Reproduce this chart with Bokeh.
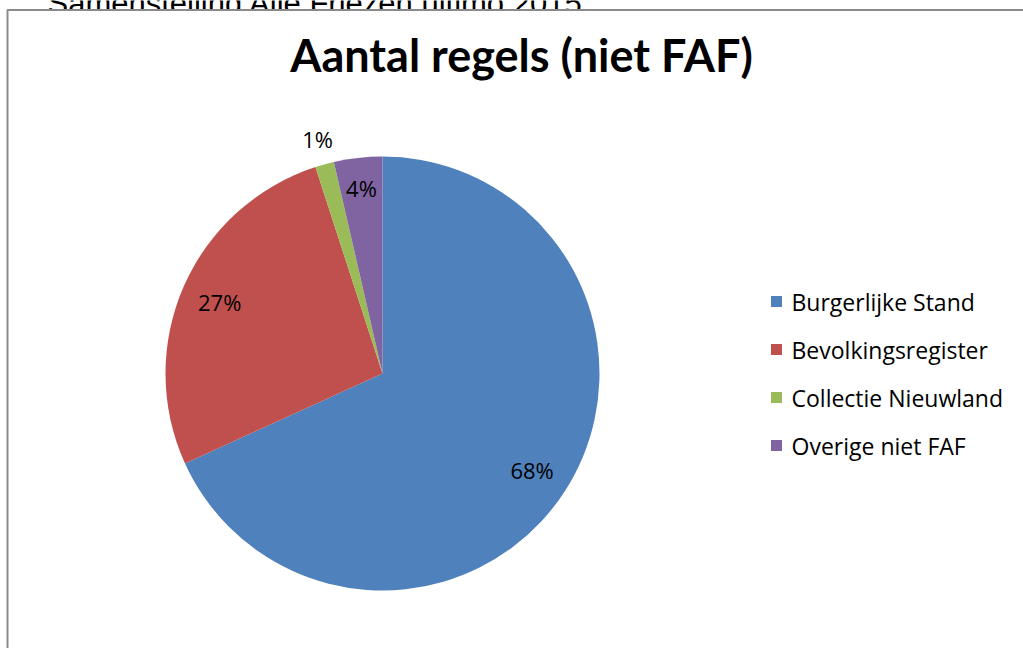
import math
import numpy as np
from bokeh.plotting import figure
from bokeh.models import ColumnDataSource, Range1d
from bokeh.core.properties import value
from bokeh.embed import file_html
from bokeh.resources import INLINE

# ---- data ----
categories = ["Burgerlijke Stand", "Bevolkingsregister", "Collectie Nieuwland", "Overige niet FAF"]
shares = [68.2, 26.8, 1.4, 3.6]
colors = ["#4F81BD", "#C0504D", "#9BBB59", "#8064A2"]
title_text = "Aantal regels (niet FAF)"
top_text = "Samenstelling Alle Friezen ultimo 2015"

# ---- layout ----
W, H = 1023, 648
FONT = "Open Sans"
cx, cy, R = 382, H - 373, 217

p = figure(width=W, height=H, output_backend="svg", toolbar_location=None,
           x_range=Range1d(0, W), y_range=Range1d(0, H), min_border=0)
p.axis.visible = False
p.grid.visible = False
p.outline_line_color = None
p.background_fill_color = "white"
p.border_fill_color = "white"

# heading above the chart area (partly hidden behind the chart box, as in the reference)
p.text(x=[47], y=[H - 3], text=[top_text], text_font=value("Liberation Sans"),
       text_font_size="31px", text_color="black",
       text_align="left", text_baseline="alphabetic")

# chart box (white, grey left/top edge; right/bottom edges lie outside the window)
p.quad(left=[7], right=[W + 20], bottom=[-20], top=[H - 9.5],
       fill_color="white", line_color="#8a8a8a", line_width=2)

# pie
vals = np.array(shares, dtype=float)
cum = np.concatenate([[0.0], np.cumsum(vals)]) / vals.sum()
start = math.pi / 2 - cum[:-1] * 2 * math.pi
end = math.pi / 2 - cum[1:] * 2 * math.pi
src = ColumnDataSource(dict(cat=categories, start=start, end=end, color=colors))
p.wedge(x=cx, y=cy, radius=R, start_angle="start", end_angle="end",
        direction="clock", fill_color="color", line_color=None, source=src)

# data labels
mid = (cum[:-1] + cum[1:]) / 2
ang = math.pi / 2 - mid * 2 * math.pi
frac = vals / vals.sum()
rf = np.where(frac < 0.02, 1.12, np.where(frac < 0.05, 0.86, 0.82))
lsrc = ColumnDataSource(dict(
    x=cx + rf * R * np.cos(ang),
    y=cy + rf * R * np.sin(ang),
    t=[f"{round(s)}%" for s in shares],
))
p.text(x="x", y="y", text="t", source=lsrc, text_font=value(FONT),
       text_font_size="22px", text_color="black",
       text_align="center", text_baseline="middle")

# title
p.text(x=[521], y=[H - 54], text=[title_text], text_font=value("Lato"),
       text_font_style="bold", text_font_size="45px", text_color="black",
       text_align="center", text_baseline="middle")

# legend (manual, Excel style)
n = len(categories)
lx0, ly0, pitch = 776, H - 301, 48
leg = ColumnDataSource(dict(
    x=[lx0] * n,
    y=[ly0 - i * pitch for i in range(n)],
    tx=[lx0 + 15] * n,
    cat=categories,
    color=colors,
))
p.scatter(x="x", y="y", source=leg, marker="square", size=11,
          fill_color="color", line_color=None)
p.text(x="tx", y="y", text="cat", source=leg, text_font=value(FONT),
       text_font_size="23px", text_color="black",
       text_align="left", text_baseline="middle")

open("out.html", "w").write(file_html(p, INLINE))
